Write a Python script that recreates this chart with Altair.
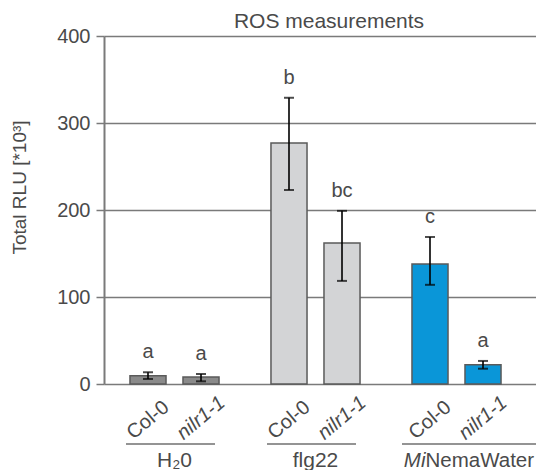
import altair as alt
import pandas as pd

# ---- data ----
treatments = ["H2O", "H2O", "flg22", "flg22", "MiNemaWater", "MiNemaWater"]
genotypes = ["Col-0", "nilr1-1", "Col-0", "nilr1-1", "Col-0", "nilr1-1"]
means = [9.6, 8.1, 277, 162, 138, 22]
err_low = [5.8, 3.1, 223, 118.5, 114, 17.6]
err_high = [13.5, 11.5, 329, 199, 169, 26.5]
letters = ["a", "a", "b", "bc", "c", "a"]

group_order = ["H2O", "flg22", "MiNemaWater"]
group_labels = ["H\u20820", "flg22", "NemaWater"]
group_italic_prefix = ["", "", "Mi"]
fill_colors = ["#8a8a8a", "#d3d4d6", "#0a96d8"]
y_ticks = [0, 100, 200, 300, 400]
chart_title = ["ROS measurements"]

df = pd.DataFrame({
    "treatment": treatments,
    "genotype": genotypes,
    "mean": means,
    "lo": err_low,
    "hi": err_high,
    "letter": letters,
})
gdf = pd.DataFrame({
    "treatment": group_order,
    "label": group_labels,
    "prefix": group_italic_prefix,
})
tdf = pd.DataFrame({"t": chart_title})

FONT = "Liberation Sans"
TXT = "#4a4a4a"
GRID = "#7a7a7a"
Y_TITLE = "Total RLU [*10\u00b3]"

x_enc = alt.X("treatment:N", sort=group_order,
              scale=alt.Scale(paddingInner=0, paddingOuter=0.0319, align=0),
              axis=None)
xo_enc = alt.XOffset("genotype:N", sort=["Col-0", "nilr1-1"],
                     scale=alt.Scale(paddingInner=0.32, paddingOuter=0.49))
y_scale = alt.Scale(domain=[0, 400])
y_axis = alt.Axis(values=y_ticks, grid=True, gridColor=GRID, gridWidth=1.5,
                  domainColor=GRID, domainWidth=2,
                  tickColor=GRID, tickSize=8, tickWidth=1.5,
                  labelFontSize=20, labelFont=FONT, labelColor=TXT, labelPadding=6,
                  titleFontSize=19, titleFont=FONT, titleColor=TXT,
                  titleFontWeight="normal", titlePadding=27, titleY=151)


def yq(field):
    return alt.Y(field, type="quantitative", scale=y_scale, axis=y_axis, title=Y_TITLE)


bars = alt.Chart(df).mark_bar(stroke="#5a5a5a", strokeWidth=1.5).encode(
    x=x_enc,
    xOffset=xo_enc,
    y=yq("mean"),
    fill=alt.Fill("treatment:N", sort=group_order,
                  scale=alt.Scale(domain=group_order, range=fill_colors), legend=None),
)

rules = alt.Chart(df).mark_rule(color="black", strokeWidth=1.6).encode(
    x=x_enc, xOffset=xo_enc, y=yq("lo"), y2="hi:Q",
)
cap_lo = alt.Chart(df).mark_tick(orient="horizontal", color="black", size=10, thickness=2).encode(
    x=x_enc, xOffset=xo_enc, y=yq("lo"))
cap_hi = alt.Chart(df).mark_tick(orient="horizontal", color="black", size=10, thickness=2).encode(
    x=x_enc, xOffset=xo_enc, y=yq("hi"))

letter_txt = alt.Chart(df).mark_text(font=FONT, fontSize=20, color=TXT, baseline="alphabetic", dy=-14).encode(
    x=x_enc, xOffset=xo_enc, y=yq("hi"), text="letter:N")

geno_col = alt.Chart(df).transform_filter(alt.datum.genotype == "Col-0").mark_text(
    font=FONT, fontSize=20, color=TXT, angle=320, align="center", baseline="middle",
    xOffset=6).encode(
    x=x_enc, xOffset=xo_enc, y=alt.value(384), text="genotype:N")
geno_mut = alt.Chart(df).transform_filter(alt.datum.genotype == "nilr1-1").mark_text(
    font=FONT, fontSize=20, color=TXT, angle=320, align="center", baseline="middle",
    fontStyle="italic").encode(
    x=x_enc, xOffset=xo_enc, y=alt.value(382), text="genotype:N")

underline_a = alt.Chart(gdf).transform_filter(alt.datum.treatment != "MiNemaWater").mark_tick(
    orient="horizontal", size=89, thickness=1.5, color="#333333", xOffset=-4).encode(
    x=x_enc, y=alt.value(408))
underline_b = alt.Chart(gdf).transform_filter(alt.datum.treatment == "MiNemaWater").mark_tick(
    orient="horizontal", size=142, thickness=1.5, color="#333333", xOffset=16.5).encode(
    x=x_enc, y=alt.value(408))

glabel_a = alt.Chart(gdf).transform_filter(alt.datum.treatment != "MiNemaWater").mark_text(
    font=FONT, fontSize=21, color=TXT, align="center", baseline="middle").encode(
    x=x_enc, y=alt.value(425), text="label:N")
glabel_prefix = alt.Chart(gdf).transform_filter(alt.datum.treatment == "MiNemaWater").mark_text(
    font=FONT, fontSize=20.5, color=TXT, align="right", baseline="middle", fontStyle="italic", dx=-31).encode(
    x=x_enc, y=alt.value(425), text="prefix:N")
glabel_rest = alt.Chart(gdf).transform_filter(alt.datum.treatment == "MiNemaWater").mark_text(
    font=FONT, fontSize=20.5, color=TXT, align="left", baseline="middle", dx=-31).encode(
    x=x_enc, y=alt.value(425), text="label:N")

title_txt = alt.Chart(tdf).mark_text(
    font=FONT, fontSize=21, color=TXT, align="center", baseline="alphabetic").encode(
    x=alt.value(225), y=alt.value(-8), text="t:N")

chart = alt.layer(
    bars, rules, cap_lo, cap_hi, letter_txt, geno_col, geno_mut,
    underline_a, underline_b, glabel_a, glabel_prefix, glabel_rest, title_txt,
).properties(
    width=432, height=348,
    autosize=alt.AutoSizeParams(type="none"),
    padding={"left": 96, "top": 28, "right": 0, "bottom": 86},
).configure_view(strokeWidth=0)

chart.save("out.html", embed_options={"renderer": "svg", "actions": False})
